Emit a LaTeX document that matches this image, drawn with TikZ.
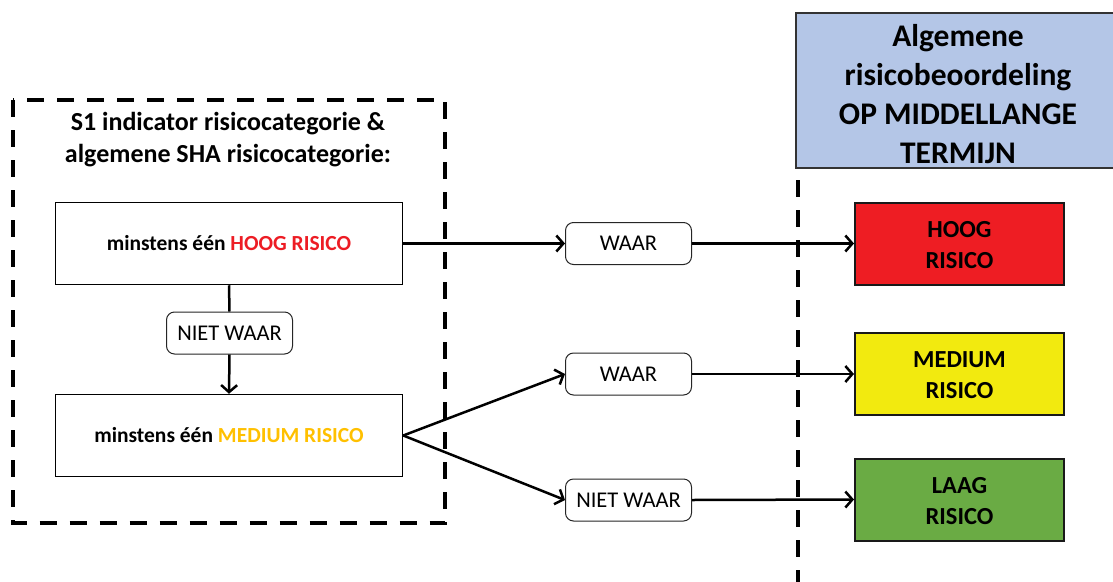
\documentclass[tikz,border=0pt]{standalone}
\usepackage{fontspec}
\setmainfont{Carlito}
\usetikzlibrary{arrows.meta}
\definecolor{rfill}{HTML}{EE1D23}
\definecolor{yfill}{HTML}{F2EA0F}
\definecolor{gfill}{HTML}{6AAB44}
\definecolor{bfill}{HTML}{B4C6E7}
\definecolor{rtext}{HTML}{ED1C24}
\definecolor{otext}{HTML}{FFC000}
\tikzset{
  cond/.style={draw=black, line width=1.5pt, fill=white, inner sep=0pt, minimum width=347pt, minimum height=82pt, font=\fontsize{21.5}{26}\selectfont\bfseries},
  lbl/.style={draw=black!85, line width=1pt, rounded corners=8pt, fill=white, inner sep=0pt, minimum width=126pt, minimum height=42pt, font=\fontsize{22.5}{26}\selectfont},
  res/.style={draw=black!90, line width=2pt, inner sep=0pt, minimum width=209pt, minimum height=82pt, align=center, font=\fontsize{24.5}{31}\selectfont\bfseries},
  restxt/.style={align=center, inner sep=0pt, font=\fontsize{24.5}{31}\selectfont\bfseries},
  conn/.style={line width=2.5pt, -{Straight Barb[length=7pt,width=16pt,line width=2.5pt]}},
  plain/.style={line width=2.5pt},
  dbox/.style={line width=4pt, dash pattern=on 17pt off 13pt},
}
\begin{document}
\begin{tikzpicture}[x=1pt,y=-1pt]
\useasboundingbox (0,0) rectangle (1113,581);
% left dashed frame
\draw[dbox] (12.5,100) rectangle (445,523);
\node[align=center, font=\fontsize{26}{32}\selectfont\bfseries] (title) at (228,140) {S1 indicator risicocategorie \&\\algemene SHA risicocategorie:};
% header
\node[fill=bfill, draw=black!80, line width=1.5pt, inner sep=0pt, minimum width=322pt, minimum height=155pt, anchor=north west] (hdr) at (795,12) {};
\node[align=center, font=\fontsize{31.5}{39}\selectfont\bfseries] (hdrtxt) at (958,94) {Algemene\\risicobeoordeling\\OP MIDDELLANGE\\TERMIJN};
\coordinate (vtop) at (797.5,180);
\coordinate (vbot) at (797.5,585);
\draw[dbox] (vtop) -- (vbot);
% condition boxes
\node[cond] (c1) at (229,243.5) {minstens één \textcolor{rtext}{HOOG RISICO}};
\node[cond] (c2) at (229,435.5) {minstens één \textcolor{otext}{MEDIUM RISICO}};
\node[lbl] (nw1) at (229.5,333) {NIET WAAR};
% labels
\node[lbl] (w1) at (628.5,243.5) {WAAR};
\node[lbl] (w2) at (628.5,374) {WAAR};
\node[lbl] (nw2) at (628.5,500) {NIET WAAR};
% results
\node[res, fill=rfill] (r1) at (959.5,243.5) {};
\node[res, fill=yfill] (r2) at (959.5,374) {};
\node[res, fill=gfill] (r3) at (959.5,499.5) {};
\node[restxt] (r1t) at (959.5,245) {HOOG\\RISICO};
\node[restxt] (r2t) at (959.5,375.5) {MEDIUM\\RISICO};
\node[restxt] (r3t) at (959.5,501) {LAAG\\RISICO};
% connectors
\draw[plain] (c1.south) -- (nw1.north);
\draw[conn] (nw1.south) -- (c2.north);
\draw[conn] (c1.east) -- (w1.west);
\draw[conn] (c2.east) -- (w2.west);
\draw[conn] (c2.east) -- (nw2.west);
\draw[conn] (w1.east) -- (r1.west);
\draw[conn] (w2.east) -- (r2.west);
\draw[conn] (nw2.east) -- (r3.west);
\end{tikzpicture}
\end{document}
